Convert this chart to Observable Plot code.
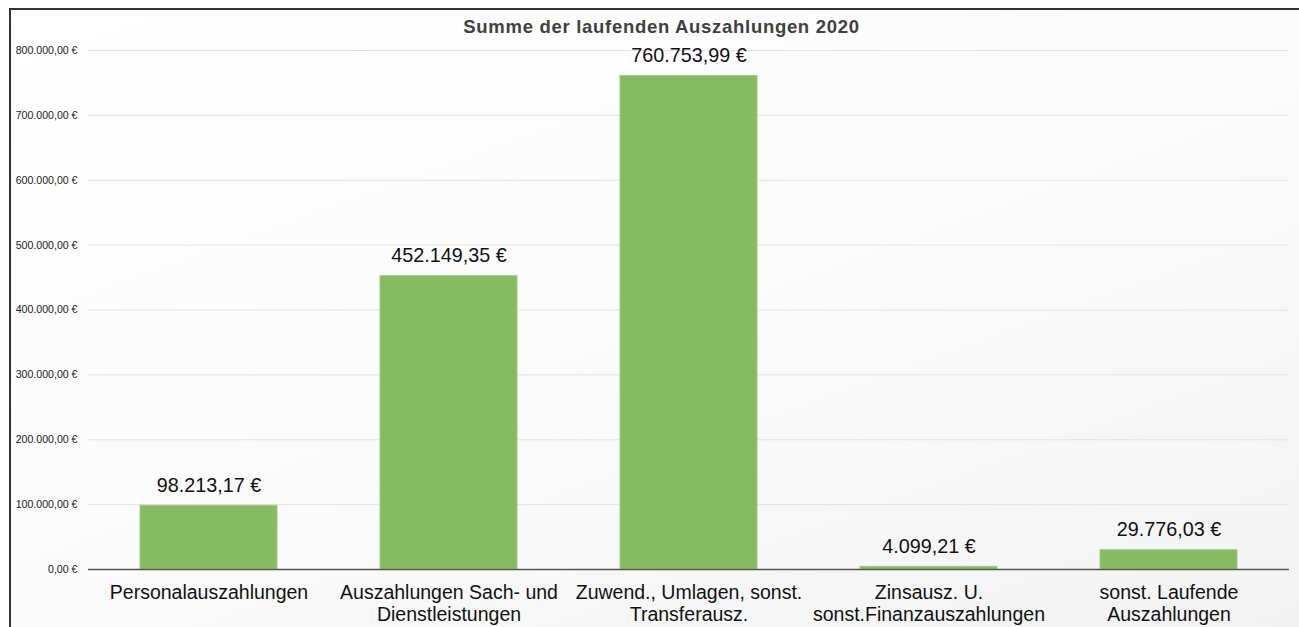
<!DOCTYPE html>
<html>
<head>
<meta charset="utf-8">
<script src="https://cdn.jsdelivr.net/npm/d3@7"></script>
<script src="https://cdn.jsdelivr.net/npm/@observablehq/plot@0.6"></script>
<style>
  html, body { margin: 0; padding: 0; background: #ffffff; overflow: hidden; }
  body { width: 1299px; height: 627px; position: relative; font-family: "Liberation Sans", Arial, sans-serif; }
  #frame {
    position: absolute; left: 9px; top: 8px; width: 1288px; height: 617px;
    border-left: 2px solid #333; border-top: 2px solid #333;
    background: linear-gradient(160deg, #ffffff 0%, #fbfbfb 50%, #f3f3f3 100%);
  }
  #title {
    position: absolute; left: 24px; top: 16px; width: 1275px; text-align: center;
    font-family: "Liberation Sans", Arial, sans-serif; font-weight: bold;
    font-size: 18.5px; letter-spacing: 0.7px; color: #404040;
  }
  #chart { position: absolute; left: 0; top: 0; width: 1290px; height: 627px; overflow: hidden; }
  #chart svg { display: block; }
</style>
</head>
<body>
<div id="frame"></div>
<div id="title">Summe der laufenden Auszahlungen 2020</div>
<div id="chart"></div>
<script>
const categories = [
  "Personalauszahlungen",
  "Auszahlungen Sach- und\nDienstleistungen",
  "Zuwend., Umlagen, sonst.\nTransferausz.",
  "Zinsausz. U.\nsonst.Finanzauszahlungen",
  "sonst. Laufende\nAuszahlungen"
];
const values = [98213.17, 452149.35, 760753.99, 4099.21, 29776.03];
const yTicks = [0, 100000, 200000, 300000, 400000, 500000, 600000, 700000, 800000];

const de = d3.formatLocale({decimal: ",", thousands: ".", grouping: [3], currency: ["", " €"]});
const euro = de.format("$,.2f");

const data = categories.map((c, i) => ({category: c, value: values[i]}));

const chart = Plot.plot({
  width: 1290,
  height: 627,
  marginTop: 50,
  marginBottom: 58,
  marginLeft: 88,
  marginRight: 1,
  style: {background: "transparent", fontFamily: "'Liberation Sans', Arial, sans-serif"},
  x: {domain: categories, paddingInner: 0.43, paddingOuter: 0.215, label: null},
  y: {domain: [0, 800000], label: null},
  marks: [
    Plot.gridY(yTicks, {stroke: "#e3e3e3", strokeOpacity: 1}),
    Plot.axisY(yTicks, {tickFormat: euro, tickSize: 0, tickPadding: 11, fontSize: 10.6, fill: "#222", label: null}),
    Plot.barY(data, {x: "category", y: "value", fill: "#86bb62", stroke: "#9fcb82", strokeWidth: 1}),
    Plot.ruleY([0], {stroke: "#555", strokeWidth: 1.5}),
    Plot.axisX({tickSize: 0, tickPadding: 13, fontSize: 19.5, lineHeight: 1.16, fill: "#111", label: null}),
    Plot.text(data, {x: "category", y: "value", text: d => euro(d.value), lineAnchor: "bottom", dy: -14, fontSize: 19.8, fill: "#111"})
  ]
});
document.getElementById("chart").appendChild(chart);
</script>
</body>
</html>
